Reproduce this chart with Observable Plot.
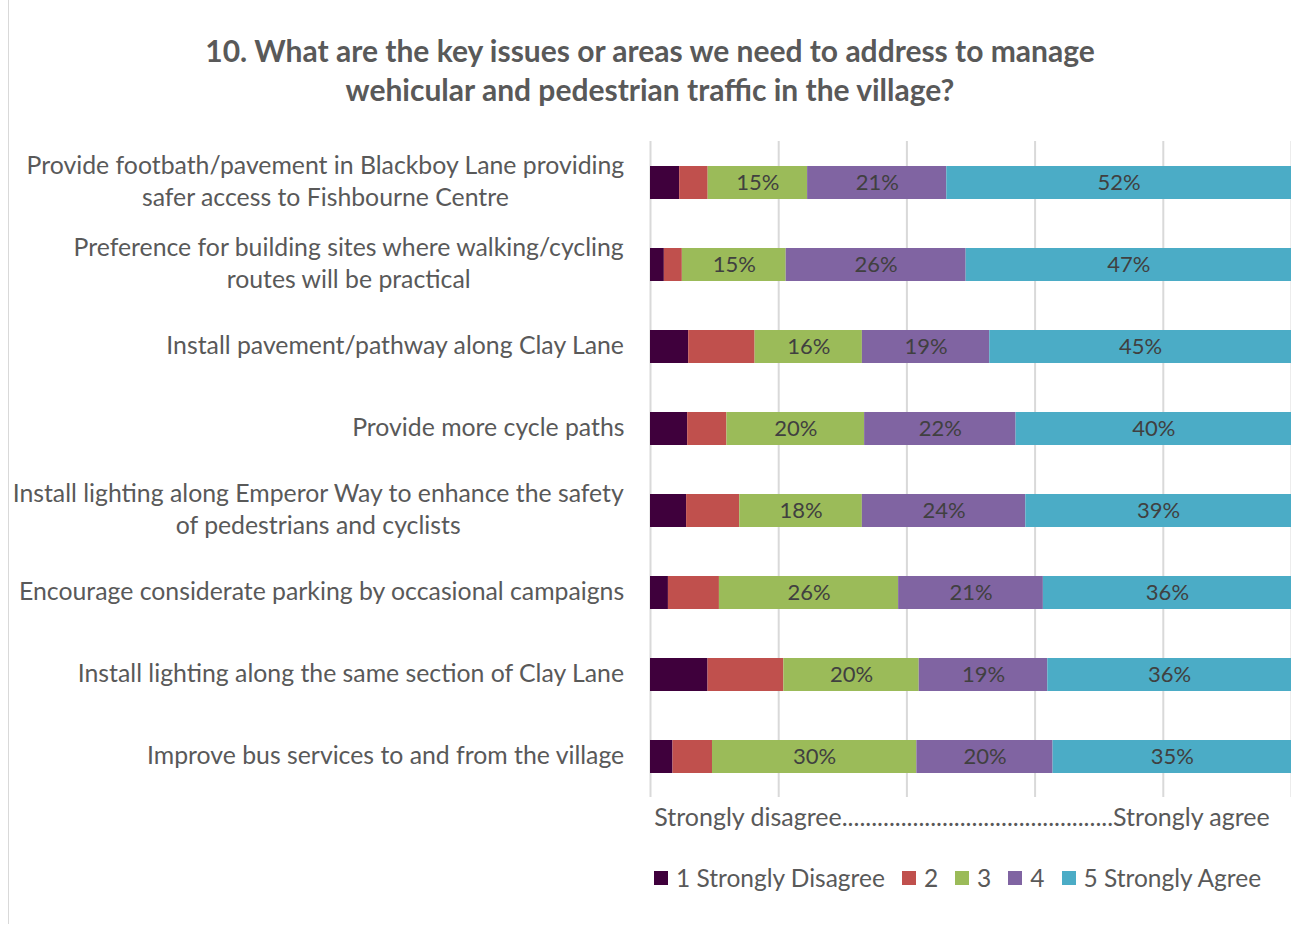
<!DOCTYPE html>
<html>
<head>
<meta charset="utf-8">
<script src="https://cdn.jsdelivr.net/npm/d3@7"></script>
<script src="https://cdn.jsdelivr.net/npm/@observablehq/plot@0.6"></script>
<style>
  html, body { margin: 0; padding: 0; background: #fff; }
  body { width: 1291px; height: 925px; position: relative; overflow: hidden; font-family: Lato, sans-serif; color: #595959; }
  #border { position: absolute; left: 8px; top: 0; width: 1400px; height: 924px; border-left: 1px solid #d9d9d9; }
  #title { position: absolute; left: 0; top: 31px; width: 1300px; text-align: center; font-weight: bold; font-size: 30px; line-height: 39px; color: #595959; }
  #chart { position: absolute; left: 0; top: 100px; }
  #legend { position: absolute; left: 654px; top: 864px; display: flex; align-items: center; font-size: 24.5px; line-height: 28px; color: #595959; white-space: nowrap; }
  #legend .item { display: flex; align-items: center; margin-right: 17px; }
  #legend .sw { width: 14px; height: 14px; margin-right: 8px; }
</style>
</head>
<body>
<div id="border"></div>
<div id="title">10. What are the key issues or areas we need to address to manage<br>wehicular and pedestrian traffic in the village?</div>
<div id="chart"></div>
<div id="legend"></div>
<script>
// ---- data ----
const items = [
  "Provide footbath/pavement in Blackboy Lane providing\nsafer access to Fishbourne Centre",
  "Preference for building sites where walking/cycling\nroutes will be practical",
  "Install pavement/pathway along Clay Lane",
  "Provide more cycle paths",
  "Install lighting along Emperor Way to enhance the safety\nof pedestrians and cyclists",
  "Encourage considerate parking by occasional campaigns",
  "Install lighting along the same section of Clay Lane",
  "Improve bus services to and from the village"
];
const levels = ["1 Strongly Disagree", "2", "3", "4", "5 Strongly Agree"];
const level1 = [4.4, 2.0, 5.7, 5.4, 5.3, 2.6, 8.5, 3.3];
const level2 = [4.3, 2.6, 9.9, 5.7, 7.8, 7.4, 11.2, 5.8];
const level3 = [15, 15, 16, 20, 18, 26, 20, 30];
const level4 = [21, 26, 19, 22, 24, 21, 19, 20];
const level5 = [52, 47, 45, 40, 39, 36, 36, 35];
const labelledLevels = ["3", "4", "5 Strongly Agree"];
const colors = ["#3f003c", "#c0504d", "#9bbb59", "#8064a2", "#4bacc6"];
const gridTicks = [0, 0.2, 0.4, 0.6, 0.8, 1];
const xAxisLabel = "Strongly disagree..............................................Strongly agree";

const series = [level1, level2, level3, level4, level5];
const data = items.flatMap((item, i) =>
  levels.map((level, j) => ({item, level, value: series[j][i]}))
);

// measure label widths to center wrapped lines, right-aligned as a block
const labelSize = 24.8;
const ctx = document.createElement("canvas").getContext("2d");
ctx.font = `${labelSize}px Lato`;
const blockWidth = s => Math.max(...s.split("\n").map(l => ctx.measureText(l).width));
const labelGap = 26;

const labelMarks = items.map(item =>
  Plot.text([item], {
    y: d => d,
    text: d => d,
    frameAnchor: "left",
    textAnchor: "middle",
    dx: -(labelGap + blockWidth(item) / 2),
    dy: -3,
    lineHeight: 32 / labelSize,
    fontSize: labelSize,
    fill: "#595959"
  })
);

const chart = Plot.plot({
  width: 1291,
  height: 735,
  marginLeft: 650,
  marginRight: 0,
  marginTop: 41,
  marginBottom: 38,
  style: {fontFamily: "Lato, sans-serif", background: "transparent", overflow: "visible"},
  x: {domain: [0, 1], axis: null},
  y: {domain: items, axis: null, paddingInner: 0.6, paddingOuter: 0.3},
  color: {domain: levels, range: colors},
  marks: [
    Plot.ruleX(gridTicks, {stroke: "#d9d9d9", strokeWidth: 2}),
    Plot.barX(data, Plot.stackX({x: "value", y: "item", fill: "level", offset: "normalize"})),
    Plot.text(data, Plot.stackX({
      x: "value", y: "item", z: "level", offset: "normalize",
      text: d => labelledLevels.includes(d.level) ? `${d.value}%` : "",
      fill: "#404040", fontSize: 22
    })),
    ...labelMarks,
    Plot.text([xAxisLabel], {
      text: d => d, frameAnchor: "bottom", lineAnchor: "middle", dy: 20, dx: -9,
      fontSize: 25, fill: "#595959"
    })
  ]
});
document.getElementById("chart").appendChild(chart);

// legend
const legend = document.getElementById("legend");
levels.forEach((lv, i) => {
  const it = document.createElement("div");
  it.className = "item";
  const sw = document.createElement("div");
  sw.className = "sw";
  sw.style.background = colors[i];
  const tx = document.createElement("span");
  tx.textContent = lv;
  it.appendChild(sw); it.appendChild(tx);
  legend.appendChild(it);
});
</script>
</body>
</html>
